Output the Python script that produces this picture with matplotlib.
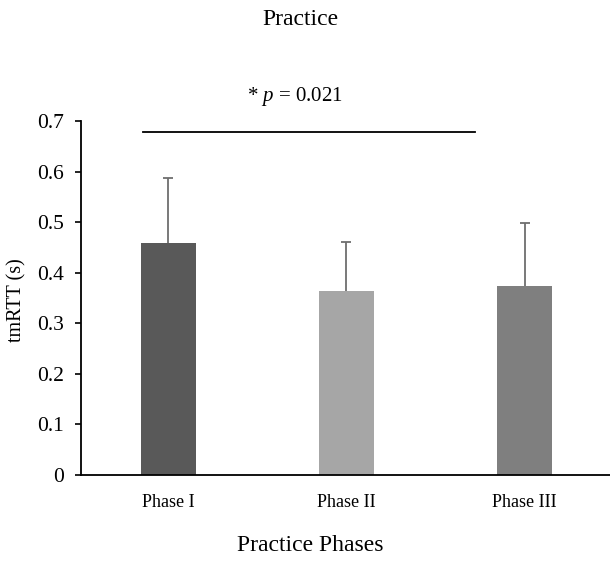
import numpy as np
import matplotlib
matplotlib.use('Agg')
import matplotlib.pyplot as plt

plt.rcParams['font.family'] = 'Liberation Serif'
plt.rcParams['mathtext.fontset'] = 'custom'
plt.rcParams['mathtext.rm'] = 'Liberation Serif'
plt.rcParams['mathtext.it'] = 'Liberation Serif:italic'

#%% data
phases = ['Phase I', 'Phase II', 'Phase III']
means = [0.459, 0.365, 0.375]
errs = [0.129, 0.096, 0.124]
colors = ['#595959', '#a6a6a6', '#7f7f7f']
yticks = [0, 0.1, 0.2, 0.3, 0.4, 0.5, 0.6, 0.7]
sig_text = r'* $p$ = 0.021'
sig_y = 0.680

#%% plot
fig = plt.figure(figsize=(6.1, 5.65), dpi=100)
ax = fig.add_axes([0.1328, 0.1593, 0.8672, 0.6257])

x = np.arange(len(phases))
ax.bar(x, means, width=0.31, color=colors, zorder=2)
eb = ax.errorbar(x, means, yerr=[np.zeros(len(errs)), errs], fmt='none',
                 ecolor='#6e6e6e', elinewidth=1.3, capsize=3.3, capthick=1.3, zorder=1)
eb[1][0].set_visible(False)  # only upper caps

# significance line between Phase I and Phase III
ax.plot([-0.143, 1.72], [sig_y, sig_y], color='black', lw=1.3, clip_on=False)
ax.text(0.71, 0.749, sig_text, ha='center', va='center', fontsize=15)

ax.set_xlim(-0.49, 2.48)
ax.set_ylim(0, 0.7)
ax.set_xticks(x)
ax.set_xticklabels(phases, fontsize=13)
ax.set_yticks(yticks)
ax.set_yticklabels([str(t) if t != 0 else '0' for t in yticks], fontsize=15.5)
ax.tick_params(axis='x', length=0, pad=14)
ax.tick_params(axis='y', length=4.3, width=1.2, direction='out', pad=8)

for s in ['top', 'right']:
    ax.spines[s].set_visible(False)
for s in ['left', 'bottom']:
    ax.spines[s].set_linewidth(1.3)

fig.text(0.492, 0.966, 'Practice', ha='center', va='center', fontsize=17)
fig.text(0.508, 0.035, 'Practice Phases', ha='center', va='center', fontsize=17)
fig.text(0.027, 0.469, 'tmRTT (s)', ha='center', va='center', rotation=90, fontsize=14.5)

fig.savefig('out.png', dpi=100)
